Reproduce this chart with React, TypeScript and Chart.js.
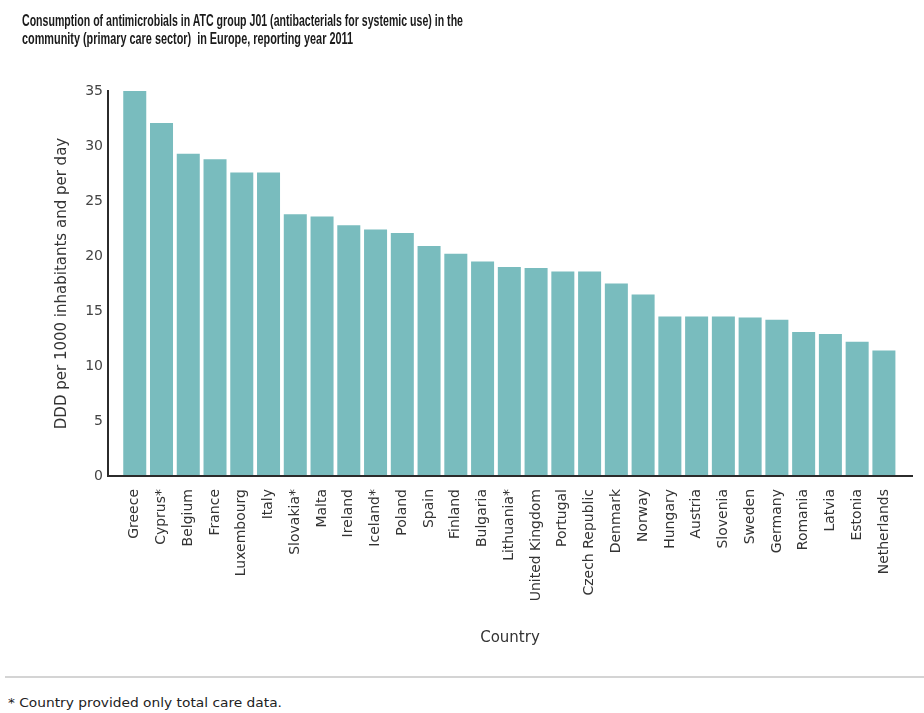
import React, { useEffect, useLayoutEffect, useRef } from 'react';
import { Chart, registerables } from 'chart.js';

Chart.register(...registerables);

const titleLines = [
  'Consumption of antimicrobials in ATC group J01 (antibacterials for systemic use) in the',
  'community (primary care sector)  in Europe, reporting year 2011',
];
const yAxisTitle = 'DDD per 1000 inhabitants and per day';
const xAxisTitle = 'Country';
const footnote = '* Country provided only total care data.';

const countries = [
  'Greece', 'Cyprus*', 'Belgium', 'France', 'Luxembourg', 'Italy', 'Slovakia*', 'Malta',
  'Ireland', 'Iceland*', 'Poland', 'Spain', 'Finland', 'Bulgaria', 'Lithuania*',
  'United Kingdom', 'Portugal', 'Czech Republic', 'Denmark', 'Norway', 'Hungary', 'Austria',
  'Slovenia', 'Sweden', 'Germany', 'Romania', 'Latvia', 'Estonia', 'Netherlands',
];
const consumption = [
  35.0, 32.1, 29.3, 28.8, 27.6, 27.6, 23.8, 23.6,
  22.8, 22.4, 22.1, 20.9, 20.2, 19.5, 19.0,
  18.9, 18.6, 18.6, 17.5, 16.5, 14.5, 14.5,
  14.5, 14.4, 14.2, 13.1, 12.9, 12.2, 11.4,
];
const yTickValues = [0, 5, 10, 15, 20, 25, 30, 35];

const FONT = "'DejaVu Sans', Verdana, sans-serif";
const TITLE_FONT = "'Liberation Sans Narrow', 'Liberation Sans', Arial, sans-serif";

function FitText({ text, width, style }: { text: string; width: number; style: React.CSSProperties }) {
  const ref = useRef<HTMLSpanElement>(null);
  useLayoutEffect(() => {
    const el = ref.current;
    if (!el) return;
    el.style.transform = 'none';
    const w = el.getBoundingClientRect().width;
    if (w > 0) el.style.transform = `scaleX(${width / w})`;
  }, [text, width]);
  return (
    <span
      ref={ref}
      style={{ display: 'inline-block', whiteSpace: 'pre', transformOrigin: '0 0', position: 'absolute', ...style }}
    >
      {text}
    </span>
  );
}

export default function App() {
  const canvasRef = useRef<HTMLCanvasElement>(null);

  useEffect(() => {
    const canvas = canvasRef.current;
    if (!canvas) return;
    const data = countries.map((c, i) => ({ x: i, y: consumption[i] }));
    const chart = new Chart(canvas, {
      type: 'bar',
      data: {
        datasets: [
          {
            data,
            backgroundColor: '#79bcbe',
            borderWidth: 0,
            categoryPercentage: 1,
            barPercentage: 0.86,
          },
        ],
      },
      options: {
        animation: false,
        responsive: false,
        maintainAspectRatio: false,
        layout: { padding: { top: 91, right: 12, bottom: 0, left: 0 } },
        plugins: { legend: { display: false }, tooltip: { enabled: false }, title: { display: false } },
        scales: {
          x: {
            type: 'linear',
            min: -1,
            max: 29.05,
            offset: false,
            grid: { display: false, drawTicks: false },
            border: { display: true, color: '#2b2b2b', width: 2, z: 1 },
            afterBuildTicks: (s: any) => {
              s.ticks = countries.map((_, i) => ({ value: i }));
            },
            afterFit: (s: any) => {
              s.height = 660 - 476;
            },
            ticks: {
              autoSkip: false,
              minRotation: 90,
              maxRotation: 90,
              padding: 13,
              color: '#333',
              font: { family: FONT, size: 14 },
              callback: (v: any) => {
                const i = Math.round(Number(v));
                return Math.abs(i - Number(v)) < 1e-6 && i >= 0 && i < countries.length ? countries[i] : '';
              },
            },
            title: {
              display: true,
              text: xAxisTitle,
              color: '#333',
              font: { family: FONT, size: 15 },
              padding: { top: 4, bottom: 13 },
            },
          },
          y: {
            min: 0,
            max: 35,
            grid: { display: false, drawTicks: false },
            border: { display: true, color: '#2b2b2b', width: 2, z: 1 },
            afterBuildTicks: (s: any) => {
              s.ticks = yTickValues.map((v) => ({ value: v }));
            },
            afterFit: (s: any) => {
              s.width = 108;
            },
            ticks: {
              padding: 5,
              color: '#444',
              font: { family: FONT, size: 14 },
            },
            title: {
              display: true,
              text: yAxisTitle,
              color: '#333',
              font: { family: FONT, size: 15 },
              padding: { top: 53, bottom: 0 },
            },
          },
        },
      },
    });
    return () => chart.destroy();
  }, []);

  return (
    <div style={{ position: 'fixed', left: 0, top: 0, width: 924, height: 713, background: '#fff', overflow: 'hidden' }}>
      <canvas ref={canvasRef} width={924} height={660} style={{ position: 'absolute', left: 0, top: 0, width: 924, height: 660 }} />
      <FitText
        text={titleLines[0]}
        width={441}
        style={{ left: 22, top: 11.5, fontFamily: TITLE_FONT, fontWeight: 'bold', fontSize: 17, lineHeight: '18px', color: '#1a1a1a' }}
      />
      <FitText
        text={titleLines[1]}
        width={331}
        style={{ left: 22, top: 29.5, fontFamily: TITLE_FONT, fontWeight: 'bold', fontSize: 17, lineHeight: '18px', color: '#1a1a1a' }}
      />
      <div style={{ position: 'absolute', left: 5, top: 676, width: 919, height: 2, background: '#d4d4d4' }} />
      <FitText
        text={footnote}
        width={274}
        style={{ left: 8, top: 696, fontFamily: FONT, fontSize: 12, lineHeight: '14px', color: '#222' }}
      />
    </div>
  );
}
